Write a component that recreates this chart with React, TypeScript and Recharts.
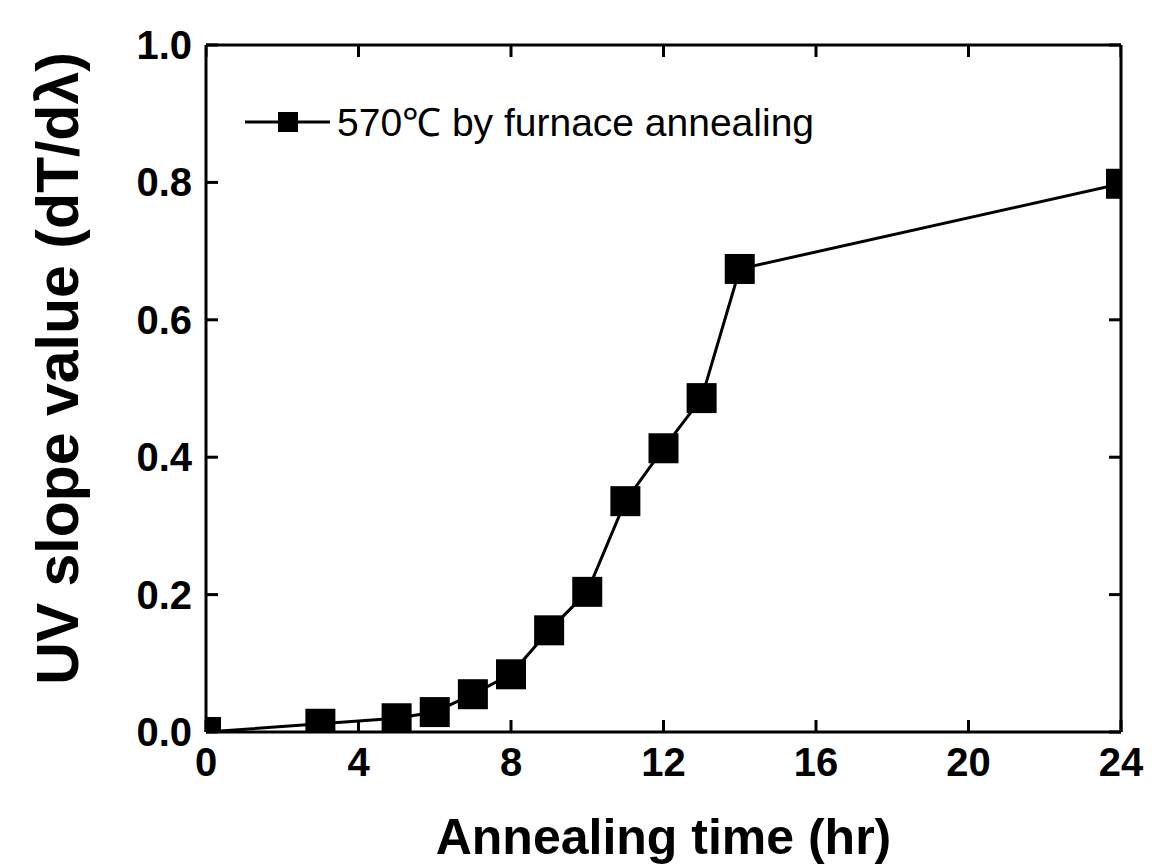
import React from 'react';
import { ComposedChart, Line, Scatter, XAxis, YAxis, Legend, ReferenceLine } from 'recharts';

// annealing time (hr) and UV slope value (dT/dλ)
const times = [0, 3, 5, 6, 7, 8, 9, 10, 11, 12, 13, 14, 24];
const slopes = [0, 0.012, 0.02, 0.029, 0.055, 0.084, 0.148, 0.204, 0.336, 0.413, 0.486, 0.674, 0.798];
const xTicks = [0, 4, 8, 12, 16, 20, 24];
const yTicks = [0, 0.2, 0.4, 0.6, 0.8, 1.0];
const seriesName = '570℃ by furnace annealing';

const data = times.map((t, i) => ({ time: t, slope: slopes[i] }));
// positions of the inward ticks on the top frame edge (x ticks at y = top of domain)
const topTickData = xTicks.map((t) => ({ time: t, slope: 1 }));

const FONT = '"Liberation Sans", Arial, Helvetica, sans-serif';
const TICK = 12;
const MARGIN = { top: 45, right: 47, bottom: 0, left: 0 };

const BottomTick = ({ x, y, payload }: any) => (
  <g>
    <line x1={x} x2={x} y1={y} y2={y - TICK} stroke="#000" strokeWidth={3} />
    <text x={x} y={y + 30} textAnchor="middle" dominantBaseline="central"
      fontFamily={FONT} fontWeight="bold" fontSize={40} fill="#000">
      {payload.value}
    </text>
  </g>
);

const LeftTick = ({ x, y, payload }: any) => (
  <g>
    <line x1={x} x2={x + TICK} y1={y} y2={y} stroke="#000" strokeWidth={3} />
    <text x={x - 14} y={y} textAnchor="end" dominantBaseline="central"
      fontFamily={FONT} fontWeight="bold" fontSize={40} fill="#000">
      {Number(payload.value).toFixed(1)}
    </text>
  </g>
);

const RightTick = ({ x, y }: any) => (
  <line x1={x} x2={x - TICK} y1={y} y2={y} stroke="#000" strokeWidth={3} />
);

const TopTickShape = ({ cx, cy }: any) => (
  <line x1={cx} x2={cx} y1={cy} y2={cy + TICK} stroke="#000" strokeWidth={3} />
);

const SquareDot = ({ cx, cy, index }: any) => (
  <rect key={`dot-${index}`} x={cx - 15} y={cy - 15} width={30} height={30} fill="#000" />
);

const LegendBox = () => (
  <svg width={640} height={50}>
    <line x1={5} x2={90} y1={25} y2={25} stroke="#000" strokeWidth={3} />
    <rect x={38} y={15} width={20} height={20} fill="#000" />
    <text x={97} y={25} dominantBaseline="central" fontFamily={FONT} fontSize={39} fill="#000">
      {seriesName}
    </text>
  </svg>
);

const XTitle = ({ viewBox }: any) => (
  <text x={viewBox.x + viewBox.width / 2} y={viewBox.y + 122} textAnchor="middle"
    fontFamily={FONT} fontWeight="bold" fontSize={50} fill="#000">
    Annealing time (hr)
  </text>
);

const YTitle = ({ viewBox }: any) => {
  const cx = 58;
  const cy = viewBox.y + viewBox.height / 2 - 20;
  return (
    <text x={cx} y={cy} transform={`rotate(-90, ${cx}, ${cy})`} textAnchor="middle"
      dominantBaseline="central" fontFamily={FONT} fontWeight="bold" fontSize={59} fill="#000">
      UV slope value (dT/dλ)
    </text>
  );
};

export default function App() {
  return (
    <div style={{ position: 'absolute', left: 0, top: 0, width: 1169, height: 866, background: '#fff' }}>
      <ComposedChart width={1169} height={866} data={data} margin={MARGIN}>
        <XAxis dataKey="time" type="number" domain={[0, 24]} ticks={xTicks} interval={0} allowDataOverflow
          height={134} tickSize={0} tickMargin={0} tickLine={false} tick={<BottomTick />}
          axisLine={{ stroke: '#000', strokeWidth: 3 }} label={<XTitle />} />
        <YAxis dataKey="slope" type="number" domain={[0, 1]} ticks={yTicks} interval={0} allowDataOverflow
          width={206} tickSize={0} tickMargin={0} tickLine={false} tick={<LeftTick />}
          axisLine={{ stroke: '#000', strokeWidth: 3 }} label={<YTitle />} />
        <YAxis yAxisId="right" orientation="right" dataKey="slope" type="number" domain={[0, 1]}
          ticks={yTicks} interval={0} allowDataOverflow width={1} tickSize={0} tickMargin={0}
          tickLine={false} tick={<RightTick />} axisLine={{ stroke: '#000', strokeWidth: 3 }} />
        {/* top frame edge */}
        <ReferenceLine y={1} stroke="#000" strokeWidth={3} ifOverflow="visible" />
        <Scatter data={topTickData} dataKey="slope" shape={<TopTickShape />} legendType="none"
          isAnimationActive={false} />
        <Legend layout="horizontal" verticalAlign="middle" align="center" content={<LegendBox />}
          wrapperStyle={{ position: 'absolute', left: 240, top: 97, width: 640, height: 50 }} />
        <Line dataKey="slope" name={seriesName} type="linear" stroke="#000" strokeWidth={3}
          dot={<SquareDot />} activeDot={false} isAnimationActive={false} />
      </ComposedChart>
    </div>
  );
}
